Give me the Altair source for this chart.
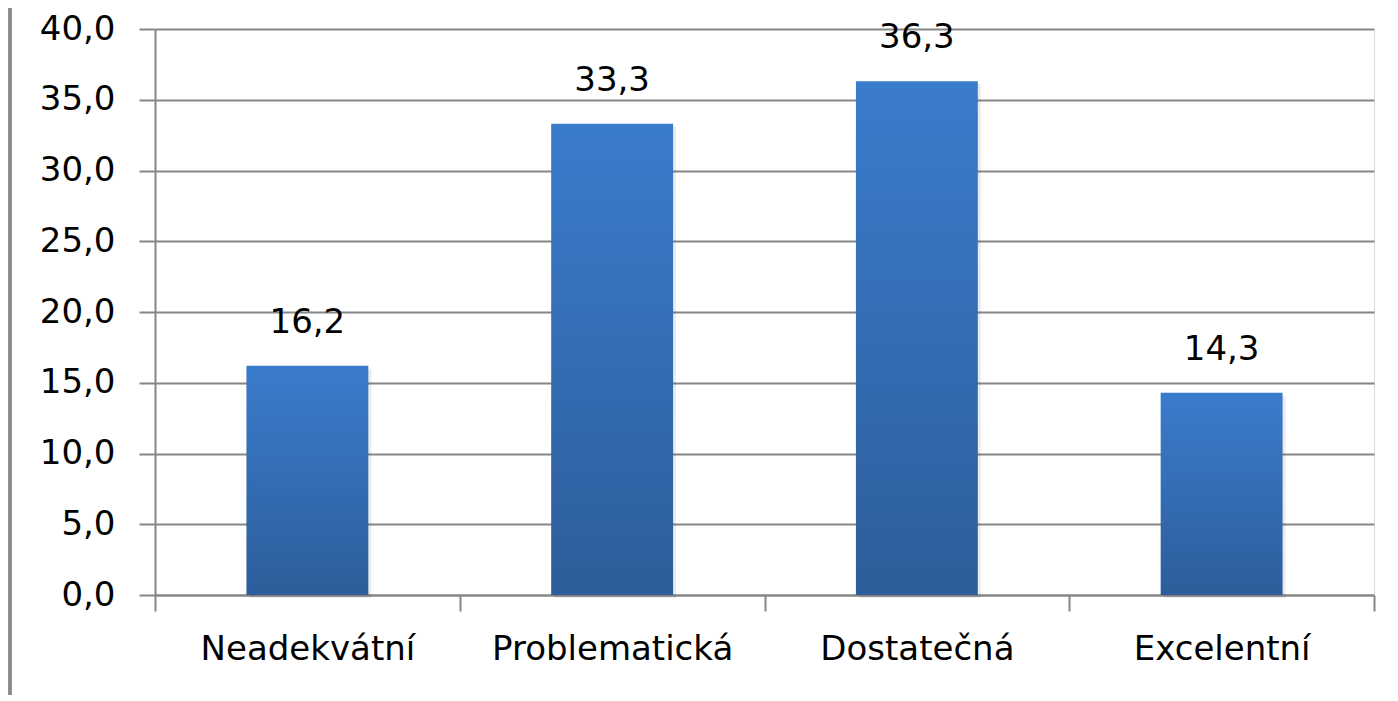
import altair as alt
import pandas as pd

categories = ["Neadekvátní", "Problematická", "Dostatečná", "Excelentní"]
values = [16.2, 33.3, 36.3, 14.3]
labels = ["16,2", "33,3", "36,3", "14,3"]
y_ticks = [0, 5, 10, 15, 20, 25, 30, 35, 40]

df = pd.DataFrame({"cat": categories, "val": values, "lab": labels})

FONT = "DejaVu Sans"
FS = 34
W, H = 1219, 566

x_enc = alt.X("cat:N", sort=categories, title=None,
              scale=alt.Scale(paddingInner=0, paddingOuter=0),
              axis=alt.Axis(labelAngle=0, labelFont=FONT, labelFontSize=FS,
                            labelColor="black", labelPadding=21, labelLimit=0,
                            tickBand="extent", tickSize=16, tickColor="#868686",
                            tickWidth=2, domainColor="#868686", domainWidth=2,
                            grid=False))

grad = alt.Gradient(gradient="linear",
                    stops=[alt.GradientStop(color="#3A7CCC", offset=0),
                           alt.GradientStop(color="#2D5D9A", offset=1)],
                    x1=0, x2=0, y1=0, y2=1)

bw = alt.RelativeBandSize(0.4)

shadow = alt.Chart(df).mark_bar(color="#000000", opacity=0.08, xOffset=3, yOffset=3,
                                width=bw).encode(
    x=x_enc,
    y=alt.Y("val:Q"),
)

bars = alt.Chart(df).mark_bar(color=grad, width=bw).encode(
    x=x_enc,
    y=alt.Y("val:Q", title=None,
            scale=alt.Scale(domain=[0, 40], nice=False),
            axis=alt.Axis(values=y_ticks, format=".1f", labelExpr="replace(datum.label, '.', ',')",
                          labelFont=FONT, labelFontSize=FS, labelColor="black",
                          labelPadding=24, tickSize=16, tickColor="#868686", tickWidth=2,
                          domainColor="#868686", domainWidth=2,
                          grid=True, gridColor="#868686", gridWidth=2)),
)

text = alt.Chart(df).mark_text(font=FONT, fontSize=FS, color="black",
                               baseline="bottom", dy=-26).encode(
    x=alt.X("cat:N", sort=categories),
    y=alt.Y("val:Q"),
    text="lab:N",
)

border = alt.Chart(df).mark_rule(color="#8a8a8a", strokeWidth=3).encode(
    x=alt.value(-145), y=alt.value(-30), y2=alt.value(H + 130)
)

chart = alt.layer(border, shadow, bars, text).properties(
    width=W, height=H,
    autosize=alt.AutoSizeParams(type="none"),
    padding={"left": 147, "top": 21, "right": 12, "bottom": 100},
).configure_view(stroke=None).configure(background="white")

chart.save("out.html", embed_options={"renderer": "svg", "actions": False})
